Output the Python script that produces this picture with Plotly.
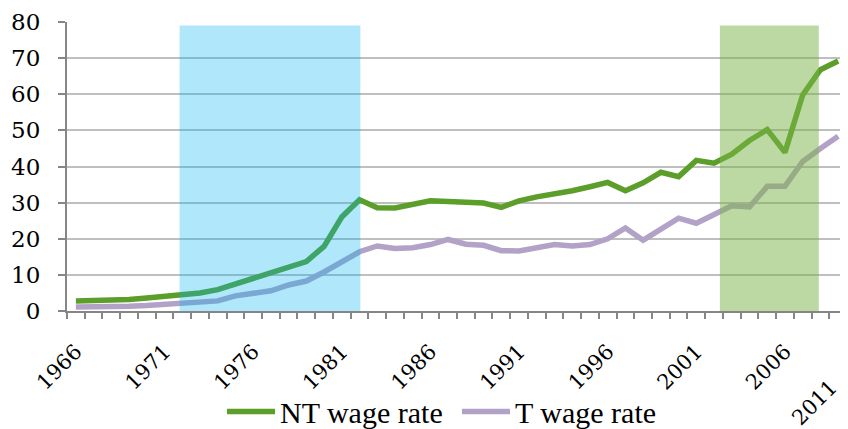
import plotly.graph_objects as go

# years on the category axis (one point per year)
years = list(range(1966, 2010))

nt_wage = [2.8, 2.9, 3.0, 3.2, 3.6, 4.0, 4.5, 5.0, 5.9, 7.5,
           8.9, 10.5, 11.9, 13.7, 17.9, 26.0, 30.8, 28.6, 28.5, 29.6,
           30.5, 30.3, 30.1, 29.9, 28.7, 30.5, 31.6, 32.3, 33.3, 34.4,
           35.6, 33.3, 35.5, 38.4, 37.2, 41.7, 40.9, 43.4, 47.2, 50.2,
           43.9, 59.8, 66.8, 69.2]

t_wage = [1.1, 1.1, 1.2, 1.3, 1.5, 1.9, 2.2, 2.5, 2.8, 4.2,
          4.9, 5.6, 7.2, 8.3, 10.8, 13.7, 16.4, 18.0, 17.3, 17.5,
          18.4, 19.8, 18.5, 18.2, 16.7, 16.6, 17.4, 18.4, 18.0, 18.4,
          20.0, 23.0, 19.6, 22.5, 25.7, 24.3, 26.5, 29.1, 28.8, 34.5,
          34.5, 41.4, 45.0, 48.4]

tick_years = [1966, 1971, 1976, 1981, 1986, 1991, 1996, 2001, 2006]
last_label = "2011"

# shaded periods (start, end, top) in axis units
blue_period = (1971.85, 1982.05, 79)
green_period = (2002.33, 2007.91, 79)

axis_grey = "#868686"
font_serif = "DejaVu Serif"

fig = go.Figure()

fig.add_trace(go.Scatter(
    x=years, y=nt_wage, mode="lines", name="NT wage rate",
    line=dict(color="#5b9f2a", width=5.5),
))
fig.add_trace(go.Scatter(
    x=years, y=t_wage, mode="lines", name="T wage rate",
    line=dict(color="#b3a2c7", width=5.5),
))

for (x0, x1, top), col in [(blue_period, "rgba(0,176,240,0.31)"),
                           (green_period, "rgba(124,180,72,0.5)")]:
    fig.add_shape(type="rect", xref="x", yref="y", x0=x0, x1=x1, y0=0, y1=top,
                  fillcolor=col, line=dict(width=0), layer="above")

# the last year label sits lower, at the far right
fig.add_annotation(
    text=last_label, x=0.958, xref="paper", y=-0.318, yref="paper",
    showarrow=False, textangle=-45, xanchor="center", yanchor="middle",
    font=dict(family=font_serif, size=21, color="#000"),
)

# page body has an 8px margin, so the figure is 8px smaller each way
fig.update_layout(
    width=840, height=421,
    margin=dict(l=59, r=1, t=14, b=117.5, autoexpand=False),
    plot_bgcolor="white", paper_bgcolor="white",
    showlegend=True,
    legend=dict(orientation="h", x=0.5, xanchor="center", y=-0.348, yanchor="middle",
                font=dict(family="Liberation Serif", size=30, color="#000"),
                bgcolor="rgba(0,0,0,0)", itemwidth=48, entrywidth=172,
                tracegroupgap=0),
)

fig.update_xaxes(
    range=[years[0] - 0.5, years[-1] + 0.5], automargin=False,
    tickvals=tick_years, ticktext=[str(y) for y in tick_years],
    tickangle=-45, ticks="", showgrid=False, zeroline=False,
    showline=True, linecolor=axis_grey, linewidth=2,
    ticklabelstandoff=18, ticklabelshift=0,
    tickfont=dict(family=font_serif, size=21, color="#000"),
    minor=dict(ticks="outside", tick0=years[0] - 0.5, dtick=1, ticklen=6,
               tickcolor=axis_grey, tickwidth=1.5, showgrid=False),
)
fig.update_yaxes(
    range=[0, 80], dtick=10, ticks="outside", ticklen=7, tickcolor=axis_grey,
    tickwidth=1.5, showline=True, linecolor=axis_grey, linewidth=2,
    showgrid=True, gridcolor="#bfbfbf", gridwidth=2, zeroline=False,
    automargin=False, ticklabelstandoff=13,
    tickfont=dict(family=font_serif, size=23, color="#000"),
)

fig.write_html("out.html")
